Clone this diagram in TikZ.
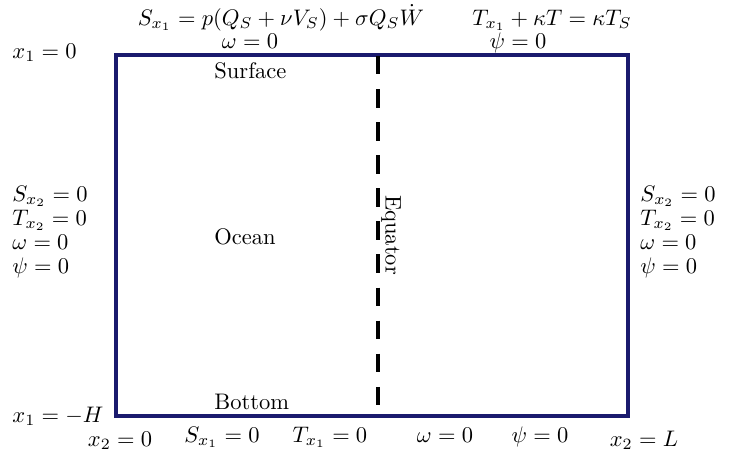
\documentclass[tikz,border=0pt]{standalone}
\usetikzlibrary{calc}
\definecolor{navy}{RGB}{26,26,110}
\begin{document}
\begin{tikzpicture}[x=0.4444pt,y=-0.4444pt,
  lbl/.style={inner sep=0pt,anchor=base west},
  clbl/.style={inner sep=0pt,anchor=base},
  boxline/.style={draw=navy,line width=2pt},
  eqline/.style={draw=black,line width=1.8pt,dash pattern=on 8.2pt off 6.5pt}]
\useasboundingbox (0,0) rectangle (736,456);
% domain
\coordinate (tl) at (116,55);
\coordinate (br) at (628,416);
\draw[boxline] (tl) rectangle (br);
\coordinate (eqtop) at (378,56);
\coordinate (eqbot) at (378,416);
\draw[eqline] (eqtop) -- (eqbot);
\node[inner sep=0pt,rotate=-90] (eq) at (391,235) {Equator};
% top
\node[clbl] (stop) at (281,25) {$S_{x_1}=p(Q_S+\nu V_S)+\sigma Q_S\dot W$};
\node[clbl] (wtop) at (250,48) {$\omega=0$};
\node[clbl] (ttop) at (552,25) {$T_{x_1}+\kappa T=\kappa T_S$};
\node[clbl] (ptop) at (518,48) {$\psi=0$};
\node[lbl] (x10) at (12,58) {$x_1=0$};
% inner labels
\node[lbl] (surf) at (214,78) {Surface};
\node[lbl] (ocean) at (214,244) {Ocean};
\node[lbl] (bottom) at (214,409) {Bottom};
% left block
\node[lbl] (ls) at (12,201) {$S_{x_2}=0$};
\node[lbl] (lt) at (12,225) {$T_{x_2}=0$};
\node[lbl] (lw) at (12,249) {$\omega=0$};
\node[lbl] (lp) at (12,273) {$\psi=0$};
% right block
\node[lbl] (rs) at (640,201) {$S_{x_2}=0$};
\node[lbl] (rt) at (640,225) {$T_{x_2}=0$};
\node[lbl] (rw) at (640,249) {$\omega=0$};
\node[lbl] (rp) at (640,273) {$\psi=0$};
% bottom
\node[lbl] (x1H) at (12,422) {$x_1=-H$};
\node[clbl] (x20) at (120,446) {$x_2=0$};
\node[clbl] (sb) at (222,442) {$S_{x_1}=0$};
\node[clbl] (tb) at (330,442) {$T_{x_1}=0$};
\node[clbl] (wb) at (445,442) {$\omega=0$};
\node[clbl] (pb) at (540,442) {$\psi=0$};
\node[clbl] (x2L) at (644,446) {$x_2=L$};
\end{tikzpicture}
\end{document}
